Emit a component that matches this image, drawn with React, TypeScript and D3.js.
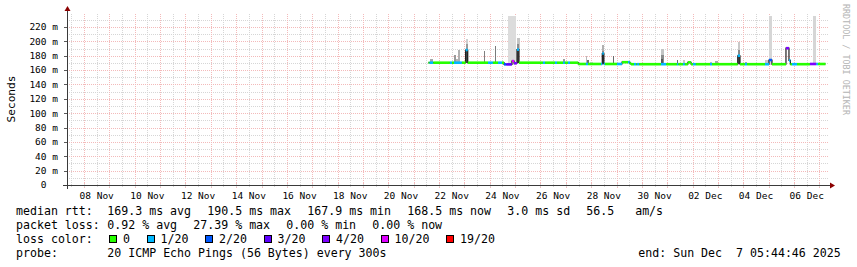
import React from "react";
import * as d3 from "d3";

// ---------- data ----------
const YEAR = 2025;
const START_TIME = "11-07 05:44:46";
const END_TIME = "12-07 05:44:46";

// y ticks (milliseconds)
const Y_MAJOR_MS = [0, 20, 40, 60, 80, 100, 120, 140, 160, 180, 200, 220];
const Y_MINOR_MS = [10, 30, 50, 70, 90, 110, 130, 150, 170, 190, 210, 230];
// x labels (days)
const X_LABEL_DAYS = ["11-08", "11-10", "11-12", "11-14", "11-16", "11-18", "11-20", "11-22", "11-24", "11-26", "11-28", "11-30", "12-02", "12-04", "12-06"];

// loss legend
const LOSS_STEPS = [0, 1, 2, 3, 4, 10, 19];
const LOSS_LABELS = ["0", "1/20", "2/20", "3/20", "4/20", "10/20", "19/20"];
const LOSS_COLORS = ["#26ff00", "#00b8ff", "#0059ff", "#5e00ff", "#7e00ff", "#dd00ff", "#ff0000"];

// median rtt runs: [start, median ms, lost pings]; each run ends where the next starts
const MEDIAN_RUNS: [string, number, number][] = [
  ["11-21 14:00", 170.3, 0],
  ["11-21 15:00", 170.3, 1],
  ["11-21 18:30", 170.3, 0],
  ["11-22 10:20", 170.3, 1],
  ["11-22 12:15", 170.3, 0],
  ["11-22 14:10", 170.3, 1],
  ["11-22 21:40", 170.3, 0],
  ["11-23 01:10", 188.0, 1],
  ["11-23 03:10", 170.3, 0],
  ["11-23 22:20", 170.3, 1],
  ["11-24 03:00", 170.3, 0],
  ["11-24 07:50", 170.3, 1],
  ["11-24 11:35", 170.3, 0],
  ["11-24 13:30", 168.0, 2],
  ["11-24 15:30", 167.9, 3],
  ["11-24 21:00", 172.5, 10],
  ["11-24 23:00", 169.5, 4],
  ["11-25 01:45", 188.5, 1],
  ["11-25 03:40", 170.3, 0],
  ["11-26 02:20", 170.3, 1],
  ["11-26 04:20", 170.3, 0],
  ["11-26 13:45", 170.3, 1],
  ["11-26 15:40", 170.3, 0],
  ["11-26 21:20", 170.3, 1],
  ["11-26 23:10", 170.3, 0],
  ["11-27 02:00", 170.3, 1],
  ["11-27 04:00", 170.3, 0],
  ["11-27 11:45", 168.5, 0],
  ["11-27 19:00", 168.5, 1],
  ["11-27 21:00", 168.5, 0],
  ["11-28 09:15", 168.5, 1],
  ["11-28 10:30", 183.0, 1],
  ["11-28 12:00", 168.5, 1],
  ["11-28 13:00", 168.5, 0],
  ["11-29 00:25", 168.5, 1],
  ["11-29 05:10", 171.0, 0],
  ["11-29 10:50", 171.0, 1],
  ["11-29 12:30", 169.5, 0],
  ["11-29 13:40", 168.2, 0],
  ["11-29 16:30", 168.2, 1],
  ["11-29 18:40", 168.2, 0],
  ["11-29 19:30", 168.2, 1],
  ["11-29 21:30", 168.2, 0],
  ["11-30 18:00", 168.2, 1],
  ["11-30 23:00", 168.2, 0],
  ["12-01 09:10", 168.2, 1],
  ["12-01 10:30", 168.2, 0],
  ["12-01 14:50", 168.2, 1],
  ["12-01 16:40", 168.2, 0],
  ["12-01 19:30", 170.8, 0],
  ["12-01 22:30", 168.2, 0],
  ["12-02 00:20", 168.2, 1],
  ["12-02 03:00", 168.2, 0],
  ["12-02 16:25", 168.2, 1],
  ["12-02 18:20", 168.2, 0],
  ["12-03 18:40", 180.0, 1],
  ["12-03 20:50", 168.2, 0],
  ["12-04 01:30", 168.2, 1],
  ["12-04 03:30", 168.2, 0],
  ["12-04 20:30", 168.2, 1],
  ["12-05 00:15", 174.0, 2],
  ["12-05 03:05", 168.2, 0],
  ["12-05 16:20", 190.5, 4],
  ["12-05 19:10", 173.5, 1],
  ["12-05 20:30", 168.2, 0],
  ["12-05 22:00", 168.2, 1],
  ["12-06 02:45", 168.2, 0],
  ["12-06 15:00", 168.5, 4],
  ["12-06 21:00", 168.5, 1],
  ["12-06 22:40", 168.5, 0],
];

// smoke (ping spread): [start, end, low ms, high ms, shade]
const SMOKE: [string, string, number, number, string][] = [
  ["11-21 15:00", "11-21 18:30", 169, 176, "#a8a8a8"],
  ["11-22 14:00", "11-22 16:00", 169, 181, "#9a9a9a"],
  ["11-22 16:00", "11-22 18:00", 169, 176, "#b4b4b4"],
  ["11-22 18:00", "11-22 20:00", 169, 188, "#b0b0b0"],
  ["11-23 01:10", "11-23 03:10", 188, 203, "#cfcfcf"],
  ["11-23 01:10", "11-23 03:10", 188, 197, "#9a9a9a"],
  ["11-23 01:10", "11-23 03:10", 170, 188, "#4a4a4a"],
  ["11-23 18:50", "11-23 19:50", 169, 187, "#808080"],
  ["11-24 05:00", "11-24 06:00", 169, 193, "#7a7a7a"],
  ["11-24 17:00", "11-25 00:30", 167, 236, "#dcdcdc"],
  ["11-25 01:45", "11-25 04:30", 188, 204, "#c4c4c4"],
  ["11-25 01:45", "11-25 03:40", 188, 197, "#8c8c8c"],
  ["11-25 01:45", "11-25 03:40", 170, 188, "#4a4a4a"],
  ["11-26 21:20", "11-26 23:10", 169, 175, "#a0a0a0"],
  ["11-27 19:00", "11-27 20:00", 168, 180, "#b8b8b8"],
  ["11-27 20:00", "11-27 22:00", 168, 174, "#6e6e6e"],
  ["11-27 23:00", "11-28 02:00", 168, 171.5, "#d0d0d0"],
  ["11-28 10:30", "11-28 12:00", 183, 195, "#b0b0b0"],
  ["11-28 10:30", "11-28 12:00", 183, 187, "#8a8a8a"],
  ["11-28 10:30", "11-28 12:00", 168, 183, "#4a4a4a"],
  ["11-28 20:30", "11-28 21:40", 168, 179, "#6a6a6a"],
  ["11-30 18:00", "11-30 21:00", 168, 189, "#c4c4c4"],
  ["11-30 18:00", "11-30 21:00", 168, 181, "#8a8a8a"],
  ["11-30 18:30", "11-30 19:30", 168, 176, "#555555"],
  ["12-01 09:10", "12-01 10:10", 168, 174, "#6a6a6a"],
  ["12-01 14:50", "12-01 16:40", 168, 174, "#c8c8c8"],
  ["12-02 16:30", "12-02 18:20", 168, 171.7, "#c0c0c0"],
  ["12-02 21:00", "12-03 00:00", 168, 172, "#a8a8a8"],
  ["12-03 18:40", "12-03 20:50", 180, 199, "#c8c8c8"],
  ["12-03 18:40", "12-03 20:50", 180, 188, "#8a8a8a"],
  ["12-03 18:40", "12-03 20:50", 168, 180, "#4a4a4a"],
  ["12-04 01:30", "12-04 03:30", 168, 171.7, "#a8a8a8"],
  ["12-04 20:30", "12-05 00:15", 168, 174, "#c8c8c8"],
  ["12-05 00:15", "12-05 03:05", 167, 236, "#d6d6d6"],
  ["12-06 17:50", "12-06 20:45", 167, 236, "#d6d6d6"],
];

// legend texts
const RTT_STATS = ["169.3 ms avg", "190.5 ms max", "167.9 ms min", "168.5 ms now", "3.0 ms sd", "56.5   am/s"];
const LOSS_STATS = ["0.92 % avg", "27.39 % max", "0.00 % min", "0.00 % now"];
const PROBE_TEXT = "20 ICMP Echo Pings (56 Bytes) every 300s";
const END_TEXT = "end: Sun Dec  7 05:44:46 2025";

// ---------- helpers ----------
const t = (s: string) => {
  const [md, hm] = s.split(" ");
  const [mo, d] = md.split("-").map(Number);
  const [h, mi, se] = (hm || "0:0").split(":").map(Number);
  return new Date(YEAR, mo - 1, d, h, mi, se || 0);
};
const lossColor = (n: number) => {
  let c = LOSS_COLORS[0];
  LOSS_STEPS.forEach((s, i) => { if (n >= s) c = LOSS_COLORS[i]; });
  return c;
};

const W = 857, H = 267;
const X0 = 67, X1 = 827, Y0 = 185, YTOP = 14;
const MONO = "'DejaVu Sans Mono', monospace";
const CW = 7.0; // legend char advance

export default function App() {
  const x = d3.scaleTime().domain([t(START_TIME), t(END_TIME)]).range([64.7, 825.5]);
  const y = d3.scaleLinear().domain([0, 220]).range([Y0, 27]);

  const gStart = x.invert(X0), gEnd = x.invert(X1 + 1);
  const minorX = d3.timeHour.every(12)!.range(gStart, gEnd);
  const majorX = d3.timeDay.range(gStart, gEnd);

  const runs = MEDIAN_RUNS.map((r, i) => ({
    s: t(r[0]),
    e: i < MEDIAN_RUNS.length - 1 ? t(MEDIAN_RUNS[i + 1][0]) : t(END_TIME),
    ms: r[1],
    loss: r[2],
  }));
  let darkPath = "";
  runs.forEach((r, i) => {
    darkPath += (i === 0 ? `M${x(r.s)},${y(r.ms)}` : `V${y(r.ms)}`) + `H${x(r.e)}`;
  });

  const majorColor = "#f3baba";
  const minorColor = "#d6d6d6";

  // legend chunk layout
  const chunkX = (items: string[], x0: number) => {
    const xs: number[] = [];
    let cx = x0;
    items.forEach((s) => { xs.push(cx); cx += s.length * CW + 16; });
    return xs;
  };
  const rttX = chunkX(RTT_STATS, 107.3);
  const lossX = chunkX(LOSS_STATS, 107.3);
  const boxX: number[] = [];
  {
    let bx = 109;
    LOSS_LABELS.forEach((l) => { boxX.push(bx); bx = bx + 14 + l.length * CW + 16.5; });
  }

  const textStyle: React.CSSProperties = { whiteSpace: "pre" };

  return (
    <svg width={W} height={H} style={{ position: "absolute", left: 0, top: 0, background: "#fff" }}
      fontFamily={MONO}>
      <rect x={0} y={0} width={W} height={H} fill="#ffffff" />
      {/* grid */}
      <g shapeRendering="crispEdges">
        {Y_MINOR_MS.map((v) => (
          <line key={"ym" + v} x1={X0} x2={X1 + 1} y1={Math.round(y(v)) + 0.5} y2={Math.round(y(v)) + 0.5}
            stroke={minorColor} strokeDasharray="1 1" />
        ))}
        {minorX.map((d, i) => (
          <line key={"xm" + i} x1={Math.round(x(d)) + 0.5} x2={Math.round(x(d)) + 0.5} y1={YTOP} y2={Y0}
            stroke={minorColor} strokeDasharray="1 1" />
        ))}
        {Y_MAJOR_MS.filter((v) => v > 0).map((v) => (
          <line key={"yM" + v} x1={X0} x2={X1 + 1} y1={Math.round(y(v)) + 0.5} y2={Math.round(y(v)) + 0.5}
            stroke={majorColor} strokeDasharray="1 1" />
        ))}
        {majorX.map((d, i) => (
          <line key={"xM" + i} x1={Math.round(x(d)) + 0.5} x2={Math.round(x(d)) + 0.5} y1={YTOP} y2={Y0}
            stroke={majorColor} strokeDasharray="1 1" />
        ))}
      </g>
      {/* smoke */}
      <g shapeRendering="crispEdges">
        {SMOKE.map((s, i) => {
          const xa = x(t(s[0])), xb = x(t(s[1]));
          const ya = Math.max(YTOP, y(s[3])), yb = y(s[2]);
          return <rect key={"sm" + i} x={xa} y={ya} width={Math.max(1, xb - xa)} height={yb - ya} fill={s[4]} />;
        })}
      </g>
      {/* median */}
      <path d={darkPath} fill="none" stroke="#202020" strokeWidth={1.2} />
      {runs.map((r, i) => (
        <line key={"md" + i} x1={x(r.s)} x2={x(r.e)} y1={y(r.ms)} y2={y(r.ms)}
          stroke={lossColor(r.loss)} strokeWidth={2.6} />
      ))}
      {/* axes */}
      <g shapeRendering="crispEdges">
        {Y_MAJOR_MS.map((v) => (
          <line key={"yt" + v} x1={X0 - 3} x2={X0 + 1} y1={Math.round(y(v)) + 0.5} y2={Math.round(y(v)) + 0.5} stroke="#5a5a5a" />
        ))}
        {majorX.map((d, i) => (
          <line key={"xt" + i} x1={Math.round(x(d)) + 0.5} x2={Math.round(x(d)) + 0.5} y1={Y0 - 2} y2={Y0 + 3} stroke={majorColor} />
        ))}
        {minorX.map((d, i) => (
          <line key={"xtm" + i} x1={Math.round(x(d)) + 0.5} x2={Math.round(x(d)) + 0.5} y1={Y0 - 1} y2={Y0 + 2} stroke={minorColor} />
        ))}
        <line x1={X0 - 4} x2={X1 + 4} y1={Y0 + 0.5} y2={Y0 + 0.5} stroke="#3a3a3a" />
        <line x1={X0 + 0.5} x2={X0 + 0.5} y1={Y0 + 4} y2={YTOP - 4} stroke="#3a3a3a" />
      </g>
      <path d={`M${X1 + 3},${Y0 - 2.5} L${X1 + 8},${Y0 + 0.5} L${X1 + 3},${Y0 + 3.5} Z`} fill="#8b0000" />
      <path d={`M${X0 - 2.5},${YTOP - 3} L${X0 + 0.5},${YTOP - 8} L${X0 + 3.5},${YTOP - 3} Z`} fill="#8b0000" />

      {/* y labels */}
      {Y_MAJOR_MS.map((v) => (
        <text key={"yl" + v} x={58} y={y(v)} dy="0.35em" textAnchor="end" fontSize={9.5} fill="#000" style={textStyle}>
          {v === 0 ? "0  " : `${v} m`}
        </text>
      ))}
      <text transform="translate(15,99) rotate(-90)" textAnchor="middle" fontSize={11.2} fill="#000">Seconds</text>
      {/* x labels */}
      {X_LABEL_DAYS.map((d) => {
        const day = t(d + " 12:00");
        return (
          <text key={"xl" + d} x={x(day)} y={198.5} textAnchor="middle" fontSize={9.5} fill="#000">
            {d3.timeFormat("%d %b")(day)}
          </text>
        );
      })}
      {/* watermark */}
      <text transform="translate(843,4) rotate(90)" fontSize={8.4} fill="#b4b4b4" style={textStyle}>RRDTOOL / TOBI OETIKER</text>

      {/* legend */}
      <g fontSize={11.6} fill="#000">
        <text x={16} y={215} style={textStyle}>median rtt:</text>
        {RTT_STATS.map((s, i) => <text key={"r" + i} x={rttX[i]} y={215} style={textStyle}>{s}</text>)}
        <text x={16} y={229} style={textStyle}>packet loss:</text>
        {LOSS_STATS.map((s, i) => <text key={"l" + i} x={lossX[i]} y={229} style={textStyle}>{s}</text>)}
        <text x={16} y={243} style={textStyle}>loss color:</text>
        {LOSS_LABELS.map((l, i) => (
          <g key={"lc" + i}>
            <rect x={boxX[i] + 0.5} y={235.5} width={7} height={7} fill={LOSS_COLORS[i]} stroke="#000" shapeRendering="crispEdges" />
            <text x={boxX[i] + 14} y={243} style={textStyle}>{l}</text>
          </g>
        ))}
        <text x={16} y={257} style={textStyle}>probe:</text>
        <text x={107.3} y={257} style={textStyle}>{PROBE_TEXT}</text>
        <text x={638.3} y={257} style={textStyle}>{END_TEXT}</text>
      </g>
    </svg>
  );
}
